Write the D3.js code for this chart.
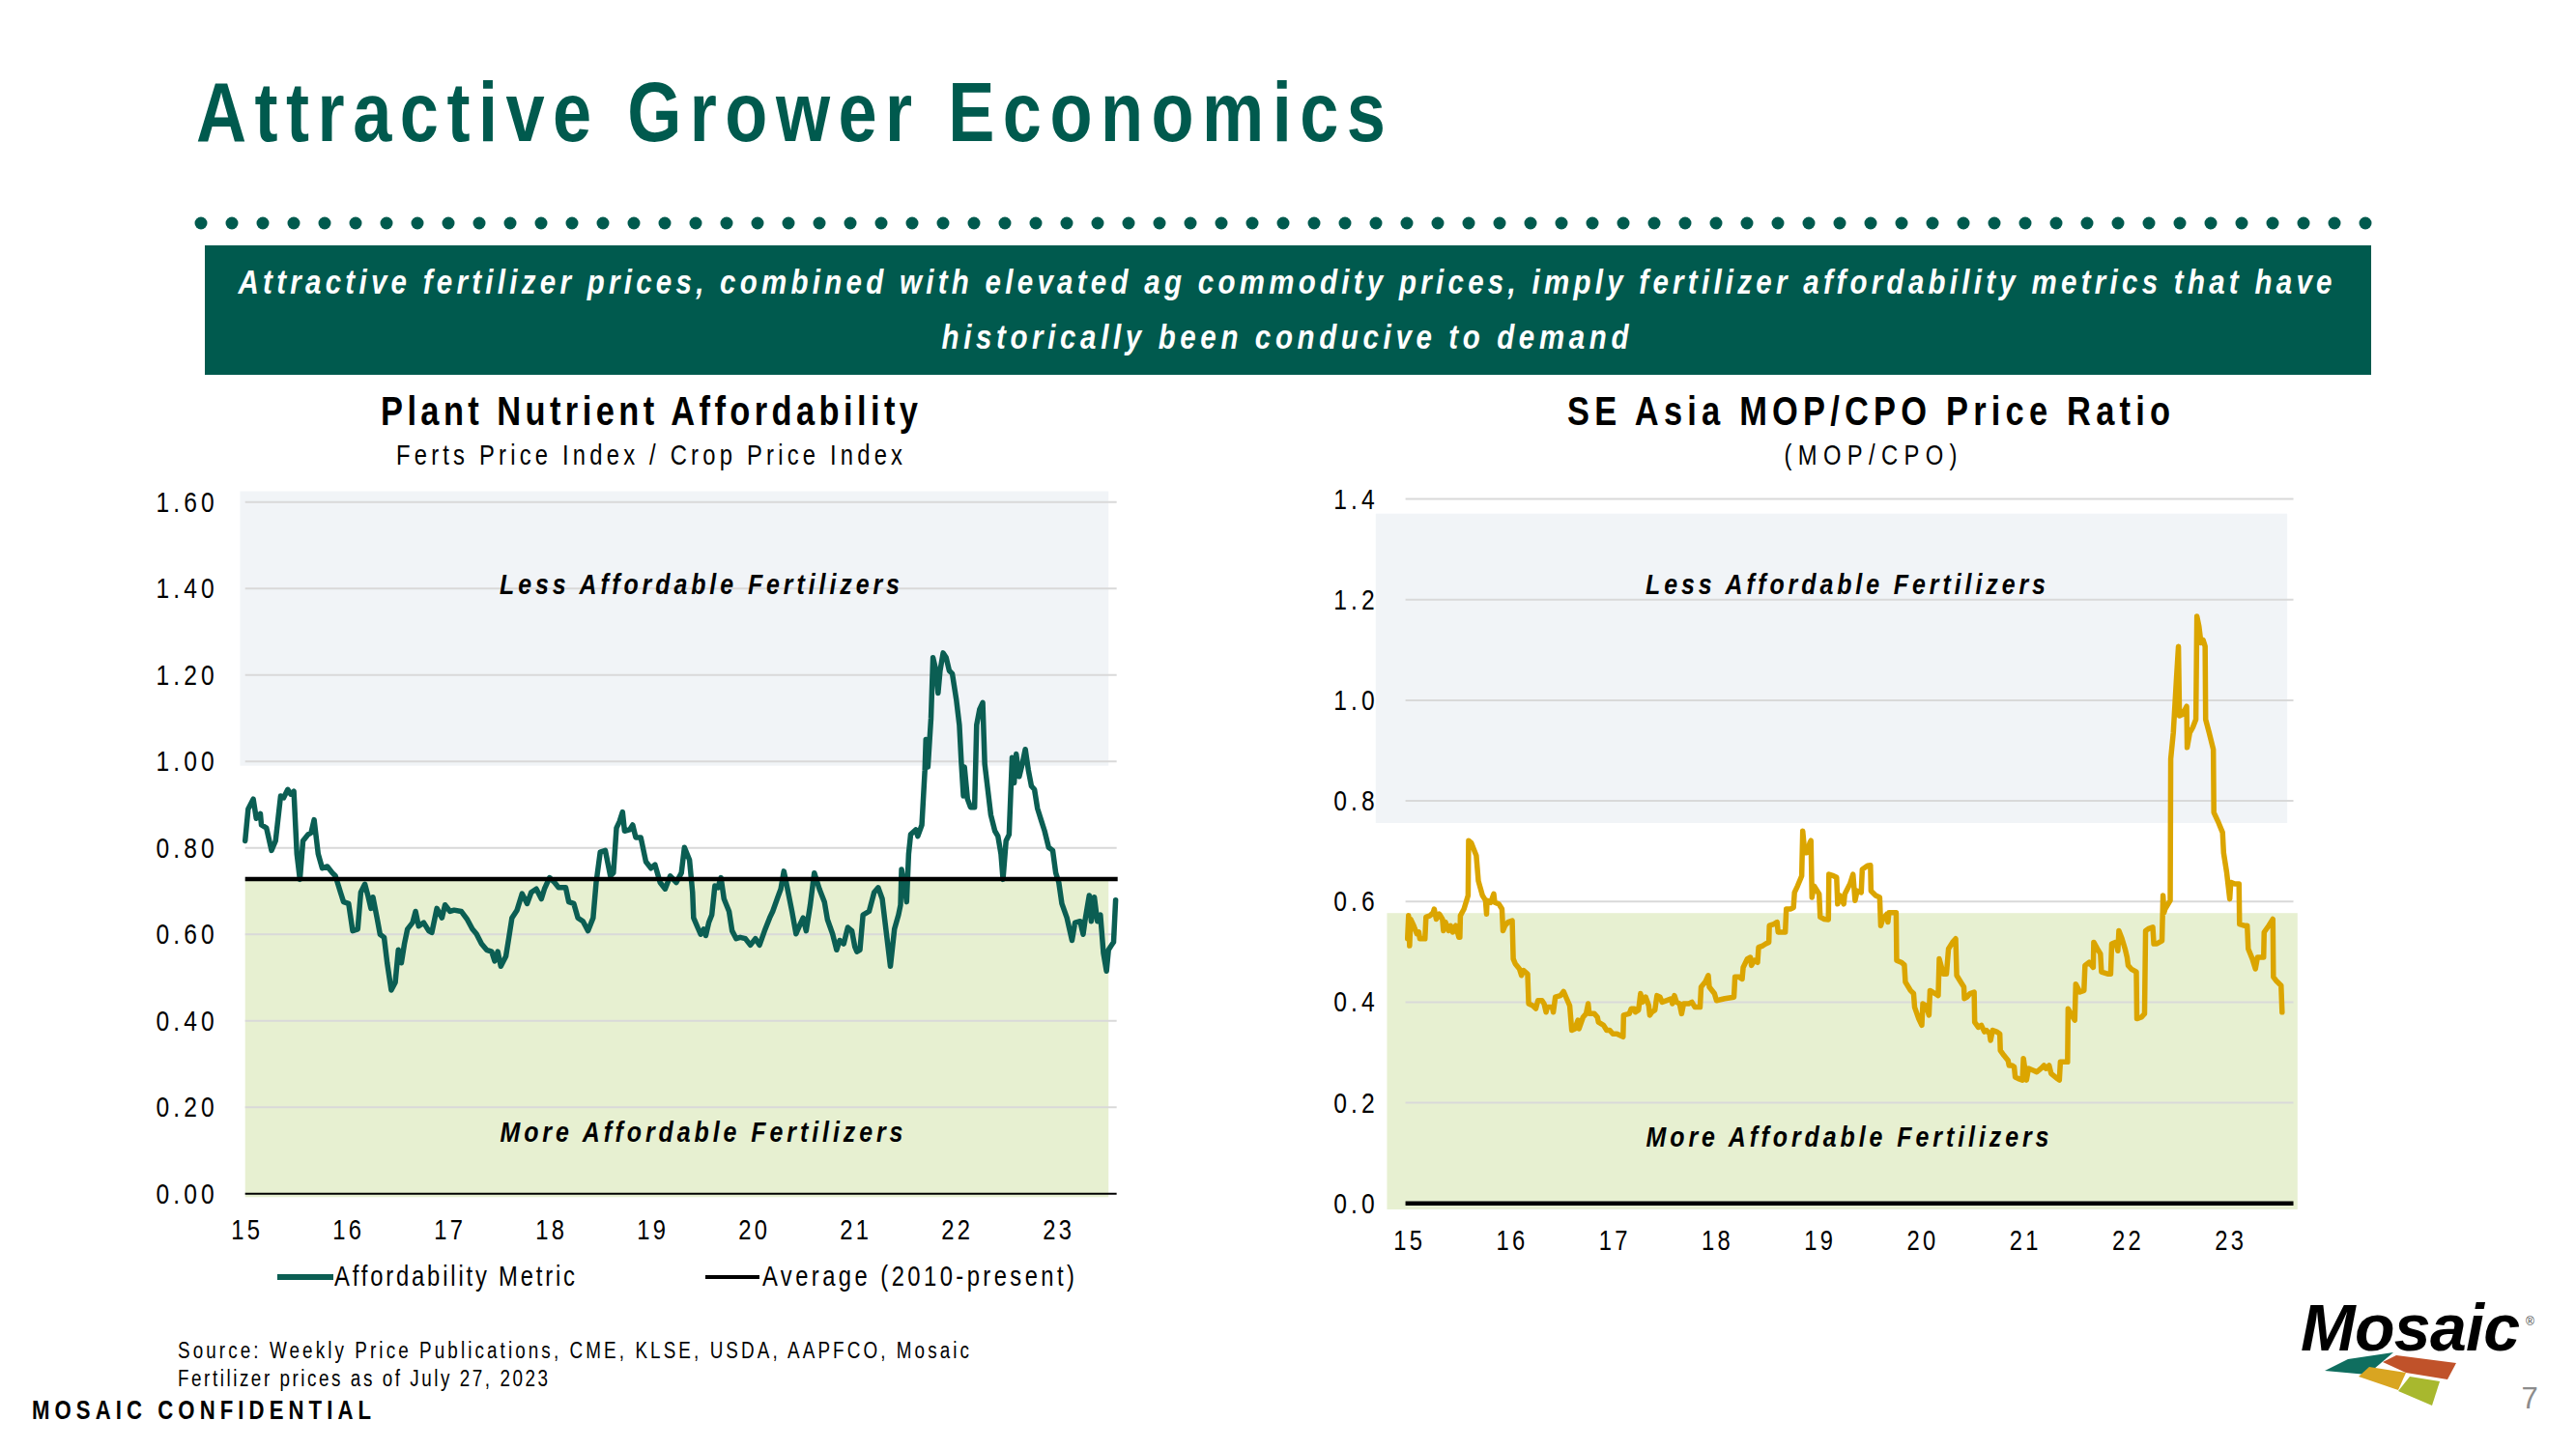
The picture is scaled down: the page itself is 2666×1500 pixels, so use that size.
<!DOCTYPE html>
<html><head><meta charset="utf-8">
<script src="https://cdn.jsdelivr.net/npm/d3@7"></script>
<style>
html,body{margin:0;padding:0;background:#fff;}
svg{display:block;font-family:"Liberation Sans",Arial,sans-serif;}
</style></head><body>
<svg id="c" width="2666" height="1500"></svg>
<script>
// ---------------- DATA ----------------
const yearTicks = [2015, 2016, 2017, 2018, 2019, 2020, 2021, 2022, 2023];
const affYTicks = [0, 0.2, 0.4, 0.6, 0.8, 1.0, 1.2, 1.4, 1.6];
const mopYTicks = [0, 0.2, 0.4, 0.6, 0.8, 1.0, 1.2, 1.4];

// Plant Nutrient Affordability (years after Jan 2015, metric)
const affT = [0.00,0.03,0.08,0.11,0.15,0.16,0.21,0.26,0.30,0.35,0.38,0.42,0.45,0.48,0.51,0.54,0.57,0.62,0.65,0.68,
0.72,0.76,0.81,0.86,0.89,0.94,0.97,1.02,1.06,1.11,1.14,1.18,1.21,1.24,1.26,1.30,1.33,1.37,1.40,1.44,
1.48,1.51,1.54,1.57,1.60,1.65,1.68,1.71,1.76,1.81,1.84,1.89,1.94,1.97,2.02,2.06,2.13,2.19,2.24,2.28,
2.33,2.38,2.43,2.46,2.49,2.52,2.57,2.60,2.63,2.68,2.73,2.78,2.82,2.87,2.92,2.95,3.00,3.05,3.09,3.16,
3.19,3.24,3.28,3.33,3.38,3.43,3.46,3.50,3.55,3.60,3.63,3.66,3.69,3.72,3.74,3.79,3.82,3.85,3.90,3.95,
4.00,4.04,4.09,4.14,4.19,4.25,4.30,4.33,4.38,4.41,4.42,4.46,4.49,4.52,4.54,4.57,4.60,4.63,4.66,4.69,
4.72,4.77,4.80,4.84,4.88,4.93,4.98,5.03,5.07,5.12,5.17,5.20,5.25,5.28,5.31,5.34,5.39,5.43,5.47,5.50,
5.53,5.57,5.61,5.66,5.71,5.74,5.79,5.83,5.86,5.90,5.94,5.98,6.01,6.03,6.06,6.09,6.15,6.20,6.24,6.28,
6.31,6.36,6.40,6.44,6.46,6.47,6.50,6.52,6.54,6.56,6.61,6.63,6.67,6.70,6.71,6.73,6.76,6.78,6.81,6.83,
6.85,6.88,6.91,6.94,6.97,7.01,7.04,7.06,7.08,7.09,7.12,7.15,7.19,7.21,7.24,7.27,7.29,7.32,7.35,7.39,
7.42,7.45,7.47,7.50,7.53,7.56,7.58,7.60,7.63,7.66,7.69,7.72,7.75,7.78,7.81,7.85,7.88,7.92,7.96,7.99,
8.02,8.05,8.10,8.15,8.18,8.23,8.26,8.28,8.32,8.34,8.37,8.40,8.43,8.46,8.49,8.51,8.54,8.56,8.58];
const affV = [0.816,0.89,0.913,0.868,0.879,0.853,0.846,0.794,0.816,0.92,0.916,0.935,0.924,0.931,0.786,0.727,0.816,0.831,0.835,0.865,
0.786,0.753,0.757,0.742,0.735,0.697,0.675,0.671,0.608,0.612,0.697,0.716,0.69,0.66,0.686,0.638,0.60,0.593,0.534,0.471,
0.489,0.564,0.534,0.578,0.612,0.627,0.653,0.619,0.627,0.608,0.604,0.66,0.638,0.668,0.653,0.656,0.653,0.634,0.612,0.601,
0.578,0.564,0.56,0.538,0.56,0.526,0.549,0.593,0.638,0.656,0.694,0.671,0.697,0.705,0.682,0.705,0.731,0.72,0.708,0.708,
0.675,0.671,0.638,0.63,0.608,0.638,0.72,0.79,0.794,0.735,0.742,0.846,0.861,0.883,0.839,0.842,0.853,0.824,0.824,0.768,
0.753,0.761,0.72,0.705,0.735,0.72,0.742,0.801,0.772,0.697,0.638,0.616,0.60,0.612,0.597,0.627,0.645,0.712,0.708,0.731,
0.682,0.653,0.608,0.59,0.593,0.59,0.575,0.59,0.575,0.608,0.638,0.653,0.686,0.705,0.746,0.712,0.653,0.601,0.623,0.638,
0.608,0.668,0.742,0.705,0.675,0.634,0.601,0.564,0.586,0.578,0.616,0.608,0.571,0.56,0.564,0.645,0.653,0.697,0.708,0.682,
0.623,0.526,0.612,0.645,0.668,0.75,0.712,0.675,0.786,0.831,0.842,0.827,0.853,0.98,1.051,0.987,1.099,1.24,1.21,1.158,
1.21,1.251,1.24,1.21,1.203,1.143,1.084,0.994,0.92,0.987,0.913,0.894,0.894,1.084,1.121,1.136,0.994,0.935,0.876,0.839,
0.827,0.786,0.727,0.816,0.831,1.009,0.95,1.017,0.965,0.994,1.028,0.98,0.943,0.935,0.891,0.861,0.839,0.801,0.794,0.742,
0.72,0.671,0.638,0.586,0.627,0.63,0.60,0.634,0.69,0.63,0.686,0.63,0.645,0.556,0.515,0.564,0.575,0.582,0.679];
const affAverage = 0.728;
const affLessBand = [0.99, 1.625];
const affMoreBand = [-0.008, affAverage];

// SE Asia MOP/CPO price ratio (years after Jan 2015, ratio)
const mopT = [0.00,0.01,0.02,0.03,0.06,0.09,0.11,0.12,0.17,0.18,0.22,0.25,0.26,0.28,0.31,0.34,0.35,0.37,0.40,0.42,
0.44,0.47,0.50,0.51,0.515,0.55,0.59,0.595,0.62,0.67,0.69,0.73,0.76,0.77,0.775,0.81,0.84,0.85,0.89,0.92,
0.93,0.95,0.98,1.02,1.03,1.05,1.09,1.11,1.13,1.17,1.18,1.22,1.25,1.27,1.31,1.33,1.35,1.36,1.41,1.42,
1.44,1.49,1.52,1.55,1.58,1.60,1.63,1.66,1.67,1.71,1.74,1.76,1.77,1.82,1.85,1.86,1.91,1.94,1.97,2.00,
2.04,2.07,2.10,2.105,2.16,2.18,2.21,2.22,2.25,2.27,2.29,2.32,2.35,2.36,2.38,2.41,2.43,2.46,2.48,2.52,
2.57,2.58,2.60,2.62,2.65,2.67,2.69,2.74,2.77,2.80,2.85,2.86,2.90,2.93,2.94,2.99,3.01,3.09,3.18,3.19,
3.23,3.26,3.27,3.31,3.34,3.35,3.38,3.41,3.42,3.46,3.49,3.52,3.525,3.57,3.60,3.61,3.68,3.69,3.73,3.76,
3.77,3.80,3.84,3.85,3.87,3.89,3.92,3.93,3.94,3.96,4.01,4.02,4.06,4.10,4.105,4.15,4.18,4.19,4.21,4.25,
4.26,4.31,4.34,4.36,4.38,4.42,4.43,4.48,4.51,4.515,4.56,4.60,4.61,4.63,4.67,4.68,4.69,4.76,4.765,4.81,
4.84,4.85,4.90,4.93,4.94,4.98,5.01,5.02,5.05,5.08,5.09,5.14,5.17,5.18,5.22,5.25,5.27,5.31,5.34,5.35,
5.38,5.42,5.425,5.45,5.48,5.52,5.525,5.56,5.59,5.62,5.64,5.67,5.68,5.70,5.74,5.77,5.775,5.81,5.85,5.86,
5.89,5.91,5.92,5.95,5.99,6.00,6.03,6.05,6.10,6.13,6.17,6.20,6.22,6.25,6.27,6.33,6.35,6.36,6.43,6.435,
6.46,6.50,6.51,6.55,6.59,6.60,6.64,6.68,6.685,6.72,6.75,6.76,6.82,6.85,6.86,6.90,6.92,6.93,6.96,6.99,
7.01,7.02,7.05,7.10,7.105,7.15,7.18,7.19,7.22,7.26,7.27,7.30,7.35,7.36,7.37,7.38,7.43,7.435,7.46,7.49,
7.51,7.52,7.55,7.59,7.595,7.62,7.65,7.68,7.69,7.71,7.73,7.75,7.77,7.775,7.81,7.85,7.855,7.90,7.94,7.95,
7.98,8.01,8.02,8.06,8.10,8.105,8.15,8.18,8.19,8.23,8.26,8.28,8.34,8.345,8.39,8.43,8.435,8.46,8.51,8.52];
const mopV = [0.526,0.572,0.512,0.565,0.552,0.536,0.539,0.526,0.526,0.569,0.572,0.578,0.585,0.565,0.575,0.565,0.542,0.559,0.542,0.552,
0.539,0.552,0.529,0.529,0.572,0.585,0.612,0.721,0.717,0.691,0.641,0.612,0.602,0.575,0.602,0.598,0.615,0.598,0.595,0.585,
0.542,0.552,0.559,0.562,0.486,0.476,0.466,0.453,0.463,0.456,0.397,0.393,0.387,0.403,0.403,0.397,0.38,0.39,0.39,0.38,
0.41,0.413,0.421,0.407,0.393,0.344,0.347,0.364,0.347,0.37,0.377,0.397,0.377,0.377,0.37,0.36,0.354,0.344,0.344,0.337,
0.337,0.334,0.331,0.374,0.377,0.387,0.387,0.38,0.384,0.417,0.40,0.41,0.393,0.374,0.38,0.384,0.413,0.41,0.40,0.403,
0.407,0.397,0.413,0.40,0.397,0.377,0.397,0.397,0.40,0.39,0.39,0.43,0.44,0.453,0.43,0.417,0.403,0.407,0.41,0.45,
0.45,0.446,0.469,0.486,0.489,0.473,0.483,0.479,0.509,0.512,0.516,0.519,0.552,0.555,0.559,0.539,0.539,0.585,0.585,0.588,
0.618,0.631,0.651,0.74,0.697,0.697,0.717,0.721,0.608,0.631,0.615,0.569,0.565,0.564,0.654,0.651,0.648,0.595,0.612,0.595,
0.615,0.635,0.654,0.602,0.621,0.618,0.664,0.671,0.672,0.621,0.612,0.608,0.552,0.565,0.575,0.559,0.578,0.578,0.483,0.479,
0.474,0.44,0.423,0.417,0.39,0.367,0.354,0.397,0.393,0.374,0.423,0.417,0.413,0.486,0.456,0.456,0.506,0.519,0.526,0.453,
0.443,0.43,0.407,0.41,0.417,0.42,0.36,0.35,0.354,0.341,0.344,0.337,0.324,0.344,0.341,0.337,0.304,0.294,0.284,0.274,
0.274,0.271,0.251,0.248,0.245,0.288,0.245,0.268,0.264,0.261,0.268,0.274,0.268,0.274,0.258,0.248,0.245,0.281,0.281,0.387,
0.377,0.364,0.436,0.42,0.423,0.473,0.479,0.469,0.519,0.506,0.496,0.46,0.456,0.456,0.516,0.519,0.502,0.542,0.526,0.506,
0.489,0.473,0.466,0.46,0.367,0.37,0.377,0.542,0.546,0.549,0.516,0.516,0.522,0.612,0.578,0.585,0.602,0.883,0.935,1.041,
1.107,0.969,0.972,0.988,0.906,0.935,0.946,0.962,1.167,1.147,1.114,1.12,1.107,0.962,0.935,0.902,0.777,0.757,0.737,0.697,
0.658,0.605,0.638,0.635,0.635,0.555,0.552,0.552,0.506,0.486,0.466,0.489,0.489,0.539,0.552,0.565,0.45,0.443,0.433,0.38];
const mopLessBand = [0.756, 1.371];
const mopMoreBand = [-0.012, 0.577];

const bannerLines = [
  "Attractive fertilizer prices, combined with elevated ag commodity prices, imply fertilizer affordability metrics that have",
  "historically been conducive to demand"
];
const sourceLines = ["Source: Weekly Price Publications, CME, KLSE, USDA, AAPFCO, Mosaic", "Fertilizer prices as of July 27, 2023"];

// ---------------- DRAW ----------------
const NARROW = 0.82;   // horizontal glyph compression (Arial Narrow look)
const TEAL = "#005A4E", LINE_TEAL = "#0B5E53", GOLD = "#DBA500";
const GREY_BAND = "#F1F4F7", GREEN_BAND = "#E7F0D1", GRID = "#D9D9D9";
const svg = d3.select("#c");
svg.append("rect").attr("width", 2666).attr("height", 1500).attr("fill", "#fff");

function txt(x, y, s, o = {}) {
  const k = o.wide ? 1 : (o.k || NARROW);
  const t = svg.append("text").attr("x", x / k).attr("y", y).text(s)
    .attr("transform", k !== 1 ? `scale(${k},1)` : null)
    .attr("font-size", o.size || 27)
    .attr("font-weight", o.bold ? "bold" : "normal")
    .attr("font-style", o.italic ? "italic" : "normal")
    .attr("fill", o.fill || "#000")
    .attr("text-anchor", o.anchor || "start");
  if (o.len) t.attr("textLength", o.len / k).attr("lengthAdjust", "spacing");
  return t;
}

// Header
txt(203, 146, "Attractive Grower Economics", {size: 88, bold: true, fill: TEAL, len: 1231});
svg.append("g").selectAll("circle").data(d3.range(71)).join("circle")
  .attr("cx", i => 208 + i * 32).attr("cy", 231).attr("r", 6.5).attr("fill", TEAL);
svg.append("rect").attr("x", 212).attr("y", 254).attr("width", 2242).attr("height", 134).attr("fill", TEAL);
txt(1330, 304, bannerLines[0], {size: 36, bold: true, italic: true, fill: "#fff", anchor: "middle", len: 2167});
txt(1330, 361, bannerLines[1], {size: 36, bold: true, italic: true, fill: "#fff", anchor: "middle", len: 711});

function chart(cfg) {
  const {x, y, yTicks, fmt, T, V, color, less, more, lessX, moreX, gridX, zeroW} = cfg;
  const g = svg.append("g");
  g.append("rect").attr("x", x(lessX[0])).attr("width", x(lessX[1]) - x(lessX[0]))
    .attr("y", y(less[1])).attr("height", y(less[0]) - y(less[1])).attr("fill", GREY_BAND);
  g.append("rect").attr("x", x(moreX[0])).attr("width", x(moreX[1]) - x(moreX[0]))
    .attr("y", y(more[1])).attr("height", y(more[0]) - y(more[1])).attr("fill", GREEN_BAND);
  g.append("g").selectAll("line").data(yTicks.filter(d => d > 0)).join("line")
    .attr("x1", x(gridX[0])).attr("x2", x(gridX[1])).attr("y1", d => y(d)).attr("y2", d => y(d))
    .attr("stroke", GRID).attr("stroke-width", 2);
  g.append("line").attr("x1", x(gridX[0])).attr("x2", x(gridX[1])).attr("y1", y(0)).attr("y2", y(0))
    .attr("stroke", "#000").attr("stroke-width", zeroW);
  const ya = g.append("g").attr("transform", `translate(${x(2015)},0)`)
    .call(d3.axisLeft(y).tickValues(yTicks).tickFormat(fmt).tickSize(0).tickPadding(cfg.yPad));
  ya.select(".domain").remove();
  ya.selectAll("text").attr("font-size", 30).attr("fill", "#000")
    .attr("x", -cfg.yPad / NARROW).attr("transform", `scale(${NARROW},1)`)
    .style("letter-spacing", "5px");
  const xa = g.append("g").attr("transform", `translate(0,${y(0)})`)
    .call(d3.axisBottom(x).tickValues(yearTicks).tickFormat(d => String(d % 100)).tickSize(0).tickPadding(cfg.xPad));
  xa.select(".domain").remove();
  xa.selectAll("text").attr("font-size", 29).attr("fill", "#000")
    .attr("transform", `scale(${NARROW},1)`).attr("dx", "2px")
    .style("letter-spacing", "4px");
  const line = d3.line().x(d => x(2015 + d[0])).y(d => y(d[1]));
  g.append("path").datum(T.map((t, i) => [t, V[i]])).attr("d", line)
    .attr("fill", "none").attr("stroke", color).attr("stroke-width", 5.5)
    .attr("stroke-linejoin", "round").attr("stroke-linecap", "round");
  return g;
}

// Left chart
const xL = d3.scaleLinear().domain([2015, 2023]).range([253.7, 1093.7]);
const yL = d3.scaleLinear().domain([0, 1.6]).range([1235.7, 519.7]);
const gL = chart({x: xL, y: yL, yTicks: affYTicks, fmt: d3.format(".2f"), T: affT, V: affV, color: LINE_TEAL,
  less: affLessBand, more: affMoreBand, lessX: [2014.95, 2023.51], moreX: [2015.0, 2023.51], gridX: [2015.0, 2023.59],
  zeroW: 2, yPad: 28, xPad: 27});
gL.append("line").attr("x1", xL(2015)).attr("x2", xL(2023.6)).attr("y1", yL(affAverage)).attr("y2", yL(affAverage))
  .attr("stroke", "#000").attr("stroke-width", 4.5);

// Right chart
const xR = d3.scaleLinear().domain([2015, 2023]).range([1456.7, 2306.6]);
const yR = d3.scaleLinear().domain([0, 1.4]).range([1245.7, 516.6]);
chart({x: xR, y: yR, yTicks: mopYTicks, fmt: d3.format(".1f"), T: mopT, V: mopV, color: GOLD,
  less: mopLessBand, more: mopMoreBand, lessX: [2014.69, 2023.57], moreX: [2014.80, 2023.67], gridX: [2014.98, 2023.63],
  zeroW: 4.5, yPad: 30, xPad: 28});

// Chart titles and annotations
txt(672, 440, "Plant Nutrient Affordability", {size: 42, bold: true, anchor: "middle", len: 556});
txt(672, 481, "Ferts Price Index / Crop Price Index", {size: 29, anchor: "middle", len: 524});
txt(1934, 440, "SE Asia MOP/CPO Price Ratio", {size: 42, bold: true, anchor: "middle", len: 624});
txt(1936, 481, "(MOP/CPO)", {size: 29, anchor: "middle", len: 179});
const annot = {size: 29, bold: true, italic: true, anchor: "middle", k: 0.86};
txt(724, 615, "Less Affordable Fertilizers", {...annot, len: 414});
txt(726, 1182, "More Affordable Fertilizers", {...annot, len: 417});
txt(1910, 615, "Less Affordable Fertilizers", {...annot, len: 414});
txt(1912, 1187, "More Affordable Fertilizers", {...annot, len: 417});

// Legend
svg.append("line").attr("x1", 287).attr("x2", 345).attr("y1", 1322).attr("y2", 1322).attr("stroke", LINE_TEAL).attr("stroke-width", 6);
txt(346, 1331, "Affordability Metric", {size: 29, len: 249});
svg.append("line").attr("x1", 730).attr("x2", 786).attr("y1", 1322).attr("y2", 1322).attr("stroke", "#000").attr("stroke-width", 4);
txt(789, 1331, "Average (2010-present)", {size: 29, len: 323});

// Footer
txt(184, 1406, sourceLines[0], {size: 23, len: 819});
txt(184, 1435, sourceLines[1], {size: 23, len: 383});
txt(33, 1469, "MOSAIC CONFIDENTIAL", {size: 27, bold: true, len: 351});

// Logo
txt(2381, 1398, "Mosaic", {size: 68, bold: true, italic: true, len: 227, wide: true});
txt(2614, 1372, "®", {size: 12, fill: "#444", wide: true});
const tiles = [
  {c: "#0F6E5F", p: [[2406,1419],[2430,1407],[2477,1400],[2450,1423]]},
  {c: "#C0522A", p: [[2466,1410],[2480,1403],[2542,1411],[2533,1428],[2490,1421]]},
  {c: "#D9A521", p: [[2441,1425],[2452,1415],[2490,1421],[2482,1439]]},
  {c: "#A8B82E", p: [[2482,1440],[2494,1425],[2525,1430],[2517,1455]]}
];
svg.append("g").selectAll("polygon").data(tiles).join("polygon")
  .attr("points", d => d.p.map(q => q.join(",")).join(" ")).attr("fill", d => d.c);
txt(2618, 1458, "7", {size: 31, fill: "#8C8C8C", anchor: "middle", wide: true});
</script>
</body></html>
